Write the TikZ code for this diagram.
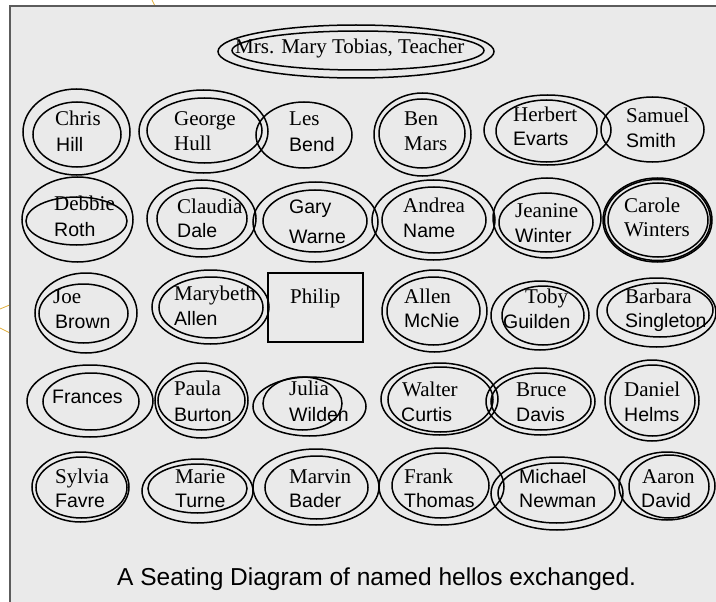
\documentclass[tikz,border=0pt]{standalone}
\usepackage{fontspec}
\setmainfont{Liberation Serif}
\newfontfamily\sansn{Liberation Sans}
\definecolor{bgfill}{HTML}{EAEAEA}
\definecolor{bordergray}{HTML}{5C5C5C}
\definecolor{gold}{HTML}{E0AE3A}
\newcommand\seatring[4]{\draw[ring] (#1,#2) ellipse [x radius=#3pt, y radius=#4pt];}
\begin{document}
\begin{tikzpicture}[x=1pt,y=-1pt,
  ring/.style={draw=black, line width=1.5pt},
  sn/.style={font=\rmfamily\fontsize{21}{25}\selectfont, inner sep=0pt, anchor=base west},
  ss/.style={font=\sansn\fontsize{19.5}{24}\selectfont, inner sep=0pt, anchor=base west},
  captionstyle/.style={font=\sansn\fontsize{24.5}{28}\selectfont, inner sep=0pt, anchor=base west},
  goldline/.style={draw=gold, line width=0.8pt}]
\useasboundingbox (0,0) rectangle (716,602);
\clip (0,0) rectangle (716,602);
% decorative lines behind the panel
\draw[goldline] (0,309) -- (12,304);
\draw[goldline] (0,328) -- (12,334);
\draw[goldline] (152,0) -- (156,8);
% panel
\fill[bgfill] (10,6) rectangle (730,620);
\draw[bordergray, line width=2pt] (10,620) -- (10,6) -- (730,6);
% teacher
\seatring{356}{51.5}{138}{26.5}
\seatring{358}{50.5}{126}{19.5}
\node[sn] (teacher) at (235,54) {Mrs. Mary Tobias, Teacher};
% row 1
\seatring{76.5}{132}{53.5}{43}
\seatring{77}{134.5}{44}{32.5}
\node[sn] (chris1) at (55,126) {Chris};
\node[ss] (chris2) at (56,151) {Hill};
\seatring{203.5}{131.5}{64.5}{41.5}
\seatring{204.5}{130.5}{57.5}{32.5}
\node[sn] (george1) at (174,126) {George};
\node[sn] (george2) at (174,150) {Hull};
\seatring{304}{135}{48}{33}
\node[sn] (les1) at (289,126) {Les};
\node[ss] (les2) at (289,151) {Bend};
\seatring{422.5}{134.5}{48.5}{41.5}
\seatring{422}{133.5}{43}{34.5}
\node[sn] (ben1) at (404,126) {Ben};
\node[sn] (ben2) at (404,150) {Mars};
\seatring{547.5}{130}{63.5}{35}
\seatring{546.5}{131}{50.5}{31}
\node[sn] (herbert1) at (513,122) {Herbert};
\node[ss] (herbert2) at (513,146) {Evarts};
\seatring{652.5}{129.5}{51.5}{32.5}
\node[sn] (samuel1) at (626,123) {Samuel};
\node[ss] (samuel2) at (626,148) {Smith};
% row 2
\seatring{77.5}{219.5}{55.5}{42.5}
\seatring{76.5}{221}{50.5}{24}
\node[sn] (debbie1) at (54,211) {Debbie};
\node[ss] (debbie2) at (54,236) {Roth};
\seatring{201.5}{218.5}{54.5}{38.5}
\seatring{202}{218.5}{45}{30.5}
\node[sn] (claudia1) at (177,213) {Claudia};
\node[ss] (claudia2) at (177,237) {Dale};
\seatring{315.5}{222}{62.5}{40}
\seatring{315}{221}{52}{31}
\node[ss] (gary1) at (289,213) {Gary};
\node[ss] (gary2) at (289,243) {Warne};
\seatring{433.5}{220}{61.5}{40}
\seatring{434}{220}{52}{33}
\node[sn] (andrea1) at (403,212) {Andrea};
\node[ss] (andrea2) at (403,237) {Name};
\seatring{547}{218}{54}{40}
\seatring{546}{222.5}{47}{29.5}
\node[sn] (jeanine1) at (515,218) {Jeanine};
\node[ss] (jeanine2) at (515,242) {Winter};
\seatring{657.5}{220}{54.5}{42}
\seatring{657.5}{220}{53}{40.5}
\seatring{658}{220}{50}{37}
\node[sn] (carole1) at (624,212) {Carole};
\node[sn] (carole2) at (624,236) {Winters};
% row 3
\seatring{86}{313}{51}{40}
\seatring{83.5}{313.5}{44.5}{29.5}
\node[sn] (joe1) at (53,303) {Joe};
\node[ss] (joe2) at (55,328) {Brown};
\seatring{210.5}{307}{58.5}{37}
\seatring{211}{307.5}{52}{30.5}
\node[sn] (marybeth1) at (174,300) {Marybeth};
\node[ss] (marybeth2) at (174,325) {Allen};
\draw[line width=2.2pt] (268,273) rectangle (363,342);
\node[sn] (philip) at (290,303) {Philip};
\seatring{434.5}{311}{52.5}{41}
\seatring{433.5}{311}{46.5}{34}
\node[sn] (allen1) at (404,303) {Allen};
\node[ss] (allen2) at (404,327) {McNie};
\seatring{540}{315.5}{49}{34.5}
\seatring{543}{315.5}{41}{29.5}
\node[sn] (toby1) at (525,303) {Toby};
\node[ss] (toby2) at (503,328) {Guilden};
\seatring{656.5}{312.5}{59.5}{34.5}
\seatring{660}{310}{53}{27}
\node[sn] (barbara1) at (625,303) {Barbara};
\node[ss] (barbara2) at (625,327) {Singleton};
% row 4
\seatring{90}{401}{63}{36}
\seatring{91}{401.5}{48}{28.5}
\node[ss] (frances) at (52,403) {Frances};
\seatring{201.5}{400.5}{46.5}{37.5}
\seatring{201.5}{400.5}{43.5}{29.5}
\node[sn] (paula1) at (174,395) {Paula};
\node[ss] (paula2) at (174,421) {Burton};
\seatring{309.5}{406.5}{56.5}{29.5}
\seatring{302.5}{403.5}{39.5}{26.5}
\node[sn] (julia1) at (289,395) {Julia};
\node[ss] (julia2) at (289,421) {Wilden};
\seatring{439.5}{399}{58.5}{36}
\seatring{440.5}{399.5}{52.5}{32.5}
\node[sn] (walter1) at (402,396) {Walter};
\node[ss] (walter2) at (401,421) {Curtis};
\seatring{540.5}{401.5}{54.5}{33.5}
\seatring{541}{401.5}{50}{28.5}
\node[sn] (bruce1) at (516,396) {Bruce};
\node[ss] (bruce2) at (516,421) {Davis};
\seatring{652}{400.5}{47}{40.5}
\seatring{652.5}{400.5}{42.5}{35.5}
\node[sn] (daniel1) at (624,396) {Daniel};
\node[ss] (daniel2) at (624,421) {Helms};
% row 5
\seatring{80.5}{487}{48.5}{35}
\seatring{81.5}{487.5}{45.5}{30.5}
\node[sn] (sylvia1) at (55,483) {Sylvia};
\node[ss] (sylvia2) at (55,507) {Favre};
\seatring{197.5}{491}{55.5}{32}
\seatring{197.5}{488.5}{49.5}{24.5}
\node[sn] (marie1) at (175,483) {Marie};
\node[ss] (marie2) at (175,507) {Turne};
\seatring{316}{487}{63}{38}
\seatring{316.5}{487.5}{51.5}{31.5}
\node[sn] (marvin1) at (289,483) {Marvin};
\node[ss] (marvin2) at (289,507) {Bader};
\seatring{441.5}{486.5}{62.5}{38.5}
\seatring{440.5}{485.5}{48.5}{32.5}
\node[sn] (frank1) at (404,483) {Frank};
\node[ss] (frank2) at (404,507) {Thomas};
\seatring{557}{493.5}{66}{36.5}
\seatring{556.5}{493}{58.5}{30}
\node[ss] (michael1) at (519,483) {Michael};
\node[ss] (michael2) at (519,507) {Newman};
\seatring{667}{486}{48}{34}
\seatring{669}{486.5}{40}{31.5}
\node[sn] (aaron1) at (642,483) {Aaron};
\node[ss] (aaron2) at (641,507) {David};
% caption
\node[captionstyle] (caption) at (117,585) {A Seating Diagram of named hellos exchanged.};
\end{tikzpicture}
\end{document}
